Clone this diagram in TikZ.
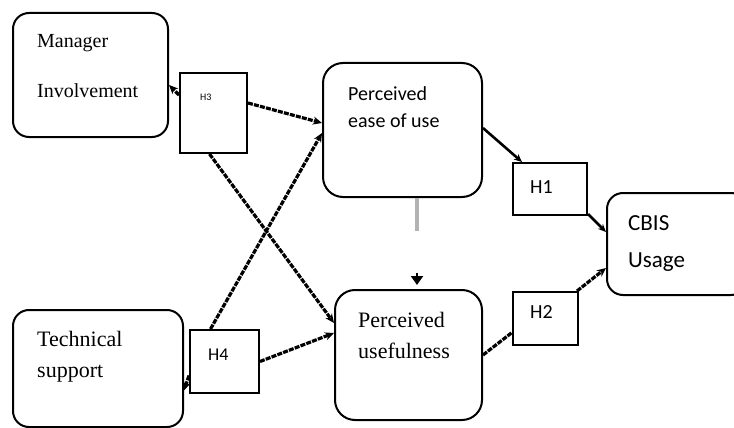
\documentclass[tikz,border=0pt]{standalone}
\usepackage{fontspec}
\setmainfont{Liberation Serif}
\newfontfamily\calib{Carlito}
\usetikzlibrary{arrows.meta,calc}
\begin{document}
\begin{tikzpicture}[x=1pt,y=-1pt,
  rbox/.style={draw=black,line width=2pt,rounded corners=16pt},
  hbox/.style={draw=black,line width=2pt},
  conn/.style={line width=3.2pt,dash pattern=on 5pt off 1.2pt,-{Stealth[length=9pt,width=8pt]}},
  solidconn/.style={line width=2.6pt,-{Stealth[length=8pt,width=7pt]}},
  serif/.style={font=\fontsize{20}{22}\selectfont,anchor=base west,inner sep=0pt},
  sans/.style={font=\calib\fontsize{20}{22}\selectfont,anchor=base west,inner sep=0pt}]
\useasboundingbox (0,0) rectangle (734,428);
\clip (0,0) rectangle (734,428);
% boxes
\node[rbox,minimum width=155pt,minimum height=124pt] (mi) at (90.5,75) {};
\node[hbox,minimum width=67pt,minimum height=80pt] (h3) at (213.5,113) {};
\node[rbox,minimum width=159pt,minimum height=134pt,rounded corners=20pt] (peu) at (402.5,130) {};
\node[hbox,minimum width=74pt,minimum height=52pt] (h1) at (550,189) {};
\node[rbox,minimum width=140pt,minimum height=102pt] (cbis) at (677,244) {};
\node[rbox,minimum width=147pt,minimum height=130pt,rounded corners=20pt] (pu) at (408.5,355) {};
\node[hbox,minimum width=65pt,minimum height=53pt] (h2) at (545.5,318.5) {};
\node[rbox,minimum width=170pt,minimum height=117pt] (ts) at (98,368.5) {};
\node[hbox,minimum width=69pt,minimum height=63pt] (h4) at (224.5,361.5) {};
% texts
\node[serif] (t1) at (37,48) {Manager};
\node[serif] (t2) at (37,97) {Involvement};
\node[sans,font=\calib\fontsize{10}{12}\selectfont] (t3) at (200,100) {H3};
\node[sans] (t4) at (348,100) {Perceived};
\node[sans] (t5) at (348,128) {ease of use};
\node[sans] (t6) at (530,193) {H1};
\node[sans,font=\calib\fontsize{23}{25}\selectfont] (t7) at (628,230) {CBIS};
\node[sans,font=\calib\fontsize{23}{25}\selectfont] (t8) at (628,267) {Usage};
\node[sans] (t9) at (530,318) {H2};
\node[serif,font=\fontsize{22}{24}\selectfont] (t10) at (358,327) {Perceived};
\node[serif,font=\fontsize{22}{24}\selectfont] (t11) at (358,358) {usefulness};
\node[serif,font=\fontsize{22}{24}\selectfont] (t12) at (37,346) {Technical};
\node[serif,font=\fontsize{22}{24}\selectfont] (t13) at (37,377) {support};
\node[sans,font=\calib\fontsize{18}{20}\selectfont] (t14) at (208,360) {H4};
% connectors
\draw[conn] ([yshift=10pt]h3.east) -- ([yshift=7pt]peu.west);
\draw[conn] ([yshift=18pt]h3.west) -- ([yshift=-10pt]mi.east);
\draw[conn] ([xshift=-4pt]h3.south) -- ([yshift=32pt]pu.west);
\draw[conn] ([xshift=-14pt]h4.north) -- ([yshift=-3pt]peu.west);
\draw[conn] (h4.east) -- ([yshift=22pt]pu.west);
\draw[conn] ([yshift=-14pt]h4.west) -- ([yshift=-22pt]ts.east);
\draw[solidconn] ([yshift=2pt]peu.east) -- ([xshift=10pt]h1.north west);
\draw[solidconn] ([yshift=2pt]h1.south east) -- ([yshift=12pt]cbis.west);
\draw[conn,-] (pu.east) -- ([yshift=-14pt]h2.west);
\draw[conn] ([xshift=-2pt]h2.north east) -- ([yshift=-24pt]cbis.west);
\coordinate (ga) at ($(peu.south)+(14.5,33)$);
\coordinate (gb) at ($(pu.north)+(8.5,-16)$);
\draw[line width=3.5pt,gray!60] ([xshift=14.5pt]peu.south) -- (ga);
\draw[line width=2pt,-{Triangle[length=9pt,width=12pt]}] (gb) -- ([xshift=8.5pt,yshift=4pt]pu.north);
\end{tikzpicture}
\end{document}
